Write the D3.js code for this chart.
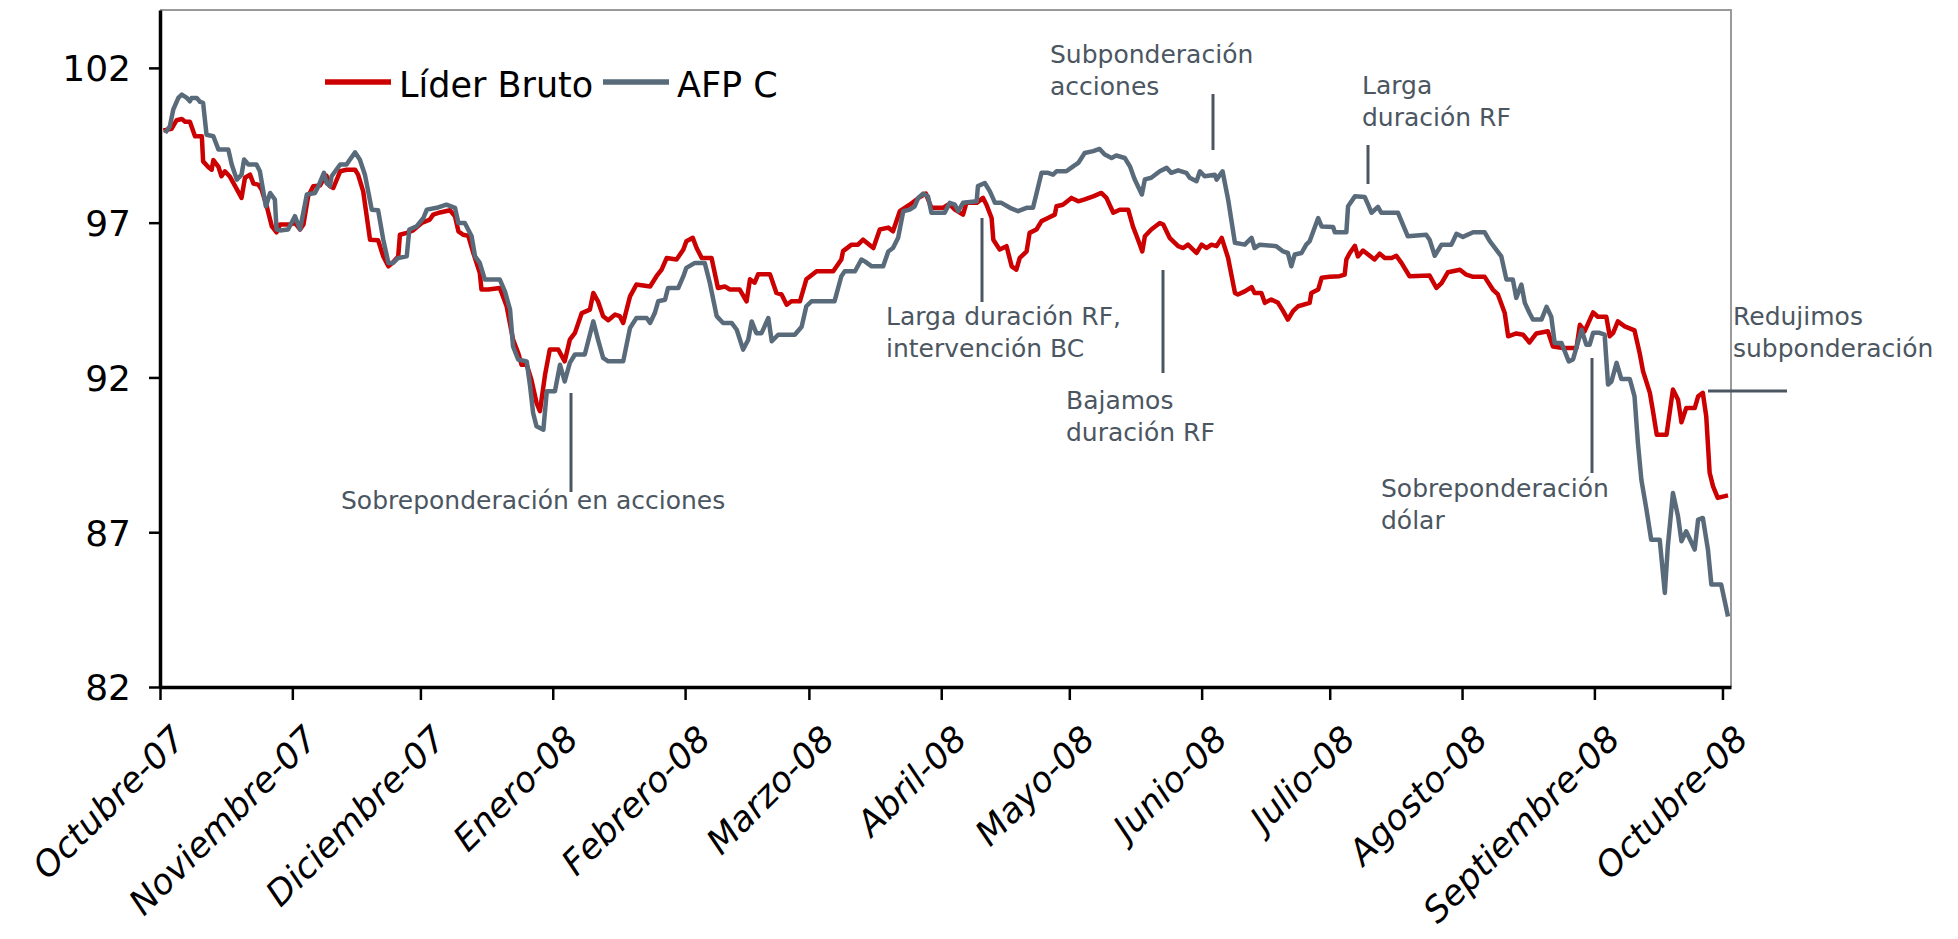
<!DOCTYPE html>
<html>
<head>
<meta charset="utf-8">
<script src="https://cdn.jsdelivr.net/npm/d3@7"></script>
<style>
  body { margin: 0; background: #fff; }
  svg { display: block; }
</style>
</head>
<body>
<div id="chart"></div>
<script>
// ---- data (days counted from 1 Oct 2007) ----
const startDate = new Date(2007, 9, 1);

const monthLabels = ["Octubre-07", "Noviembre-07", "Diciembre-07", "Enero-08", "Febrero-08",
  "Marzo-08", "Abril-08", "Mayo-08", "Junio-08", "Julio-08", "Agosto-08", "Septiembre-08", "Octubre-08"];

const yTicks = [82, 87, 92, 97, 102];

const seriesNames = ["Líder Bruto", "AFP C"];

const liderDays = [0.8,2.7,3.9,5.1,5.9,7.0,8.2,9.8,10.1,11.3,12.1,12.5,13.7,14.4,15.2,16.4,17.6,19.1,19.9,21.1,21.9,23.0,23.8,25.0,26.2,27.3,28.1,30.4,31.6,32.8,33.6,34.7,35.9,37.5,38.2,39.0,39.8,40.6,42.2,43.7,45.7,46.4,47.6,49.2,51.1,52.3,53.5,54.6,55.8,56.2,57.8,59.3,61.3,63.2,64.0,65.6,67.9,69.1,69.9,71.0,72.2,73.4,74.9,75.3,76.9,79.6,81.2,82.7,83.9,84.7,85.9,87.0,88.2,89.0,90.2,91.3,93.3,94.8,96.0,97.2,98.8,100.7,101.5,102.6,103.8,105.0,106.6,107.7,108.5,110.1,111.6,114.8,116.3,117.5,118.7,121.0,122.6,123.3,124.8,125.7,126.9,129.2,130.7,132.3,133.5,135.8,137.4,138.2,139.3,140.1,142.9,144.4,145.6,146.8,147.9,149.9,151.4,153.8,157.7,159.6,160.0,162.0,163.5,164.7,167.1,168.6,170.6,171.7,173.3,175.6,178.0,179.4,180.7,183.4,184.6,185.4,186.2,188.1,188.9,191.3,192.8,193.6,194.8,195.2,196.7,198.3,199.5,200.6,201.4,203.0,203.7,205.3,206.5,208.0,209.6,210.0,211.5,213.5,215.1,216.6,218.6,220.5,221.7,223.3,224.8,226.8,227.9,229.1,230.1,230.7,232.2,234.2,235.0,236.5,238.5,239.7,240.8,242.0,242.8,244.0,245.1,246.3,247.5,248.7,250.2,251.8,252.5,254.1,255.7,256.4,258.0,258.8,260.3,261.9,263.1,264.2,265.4,266.6,269.3,269.7,271.3,272.1,274.0,276.3,277.5,277.9,278.7,279.9,280.6,281.8,283.0,284.5,285.7,286.9,288.5,289.6,290.8,292.7,297.4,299.0,300.2,301.7,304.5,306.0,307.6,310.3,312.2,313.4,315.0,315.8,317.7,319.3,320.8,322.4,325.1,326.3,328.6,331.8,332.6,333.7,335.7,336.8,338.8,339.6,340.4,341.5,343.1,345.4,346.6,347.4,349.0,349.8,350.6,352.9,354.4,355.6,356.4,357.5,359.5,360.3,361.4,362.2,363.0,363.8,364.9,367.3];
const liderValues = [99.98,100.03,100.31,100.35,100.26,100.26,99.79,99.79,98.98,98.80,98.71,99.02,98.80,98.50,98.66,98.48,98.18,97.80,98.45,98.55,98.26,98.23,98.07,97.53,96.88,96.69,96.94,96.94,96.99,96.78,96.94,97.85,98.18,98.20,98.39,98.52,98.18,98.12,98.66,98.71,98.71,98.55,98.01,96.45,96.43,95.91,95.59,95.72,95.91,96.61,96.67,96.75,96.99,97.10,97.26,97.33,97.40,97.21,96.72,96.61,96.58,96.02,95.38,94.84,94.84,94.89,94.30,93.22,92.79,92.41,92.41,91.93,91.18,90.91,92.09,92.90,92.90,92.52,93.22,93.44,94.08,94.19,94.73,94.46,93.98,93.85,94.03,93.98,93.76,94.62,95.00,94.94,95.27,95.48,95.86,95.81,96.13,96.40,96.51,96.18,95.86,95.86,94.89,94.94,94.84,94.84,94.46,95.17,95.06,95.33,95.33,94.73,94.68,94.35,94.46,94.46,95.17,95.43,95.43,95.81,96.08,96.29,96.29,96.45,96.18,96.78,96.84,96.72,97.37,97.58,97.83,97.94,97.48,97.48,97.58,97.53,97.42,97.26,97.64,97.64,97.80,97.58,97.15,96.45,96.13,96.24,95.59,95.48,95.86,96.07,96.67,96.78,97.05,97.15,97.26,97.53,97.58,97.80,97.69,97.75,97.85,97.96,97.80,97.32,97.42,97.42,96.88,96.45,96.07,96.56,96.78,96.99,96.94,96.51,96.24,96.18,96.29,96.13,96.02,96.29,96.18,96.29,96.24,96.51,95.86,94.73,94.68,94.78,94.92,94.73,94.73,94.41,94.52,94.41,94.14,93.87,94.14,94.30,94.41,94.73,94.84,95.22,95.25,95.27,95.32,95.81,96.02,96.25,95.91,96.10,95.97,95.81,96.00,95.86,95.86,95.93,95.70,95.27,95.29,94.89,95.05,95.40,95.48,95.32,95.25,95.25,94.84,94.68,94.08,93.33,93.42,93.38,93.13,93.42,93.49,93.00,92.95,92.95,93.70,93.49,94.10,93.96,93.96,93.33,93.44,93.81,93.65,93.52,92.79,92.20,91.50,90.85,90.15,90.15,91.61,91.28,90.55,91.01,91.01,91.39,91.50,90.74,88.92,88.48,88.11,88.19];

const afpDays = [1.2,2.3,3.1,4.3,5.1,6.3,7.0,7.4,8.6,9.4,10.1,10.9,12.5,13.7,16.0,16.8,18.0,19.1,19.7,20.7,22.6,23.4,24.8,25.8,26.9,27.3,28.1,30.0,31.6,32.8,34.4,36.3,37.1,38.4,39.0,39.8,40.2,42.2,43.7,44.5,45.7,46.8,48.0,49.6,51.1,52.3,53.5,54.6,55.8,57.8,58.4,60.1,61.7,62.5,64.8,67.1,69.1,69.9,71.4,73.0,73.8,74.9,76.1,79.6,80.8,82.0,82.7,83.9,85.9,86.7,87.4,88.2,89.8,90.6,92.5,93.7,94.8,96.0,97.2,99.5,101.5,102.6,103.8,105.0,108.5,110.1,111.6,114.0,114.8,115.9,116.7,118.3,119.0,121.4,122.6,123.3,125.3,127.6,128.8,130.4,131.9,133.9,135.1,136.6,137.8,138.6,139.7,140.9,142.5,143.3,144.8,148.7,150.3,151.4,152.6,158.0,159.6,160.4,162.8,164.3,165.1,166.7,169.4,170.6,171.7,172.9,174.1,175.6,176.8,177.6,178.8,179.9,180.7,181.9,183.8,185.0,186.2,187.0,188.1,191.3,191.6,193.2,194.4,195.6,197.1,199.1,201.0,203.0,204.5,206.5,208.0,209.2,210.0,212.3,213.9,215.1,216.6,218.6,220.1,221.3,222.9,224.0,226.0,227.2,228.3,230.0,230.7,232.2,234.2,235.8,236.9,238.5,240.4,241.2,242.8,243.6,244.7,247.1,247.5,248.9,250.2,251.8,254.1,255.7,256.4,257.6,261.5,263.1,264.2,265.0,265.8,267.4,268.5,269.3,271.3,272.1,274.8,275.2,277.9,278.3,279.9,282.2,283.0,283.8,285.3,286.1,290.0,292.3,296.6,297.4,298.6,300.2,302.5,303.7,305.2,307.6,310.3,311.5,313.0,314.2,315.4,316.9,317.7,318.9,319.7,320.8,321.6,323.6,324.8,325.9,326.7,328.3,330.0,331.0,333.0,334.1,334.9,335.7,337.2,338.4,339.2,340.0,341.2,342.3,344.3,345.4,346.2,347.0,348.2,349.3,351.3,352.5,353.2,354.4,355.6,356.4,357.5,359.5,360.3,361.4,362.6,363.4,365.7,367.3];
const afpValues = [99.90,100.11,100.65,101.03,101.14,101.03,100.92,101.03,101.03,100.90,100.87,99.84,99.79,99.36,99.36,98.88,98.39,98.55,99.04,98.88,98.88,98.66,97.53,97.96,97.75,96.78,96.75,96.78,97.21,96.78,97.91,97.96,98.18,98.61,98.28,98.18,98.50,98.88,98.88,99.04,99.27,99.04,98.55,97.42,97.40,96.45,95.70,95.70,95.86,95.91,96.78,96.88,97.15,97.42,97.48,97.58,97.48,96.99,96.99,96.56,95.91,95.70,95.16,95.16,94.78,94.19,93.00,92.58,92.52,91.71,90.85,90.42,90.31,91.55,91.55,92.41,91.87,92.47,92.74,92.74,93.81,93.22,92.63,92.52,92.52,93.60,93.92,93.92,93.76,94.08,94.46,94.51,94.89,94.89,95.27,95.54,95.70,95.70,95.05,93.98,93.76,93.76,93.54,92.90,93.22,93.81,93.43,93.43,93.92,93.17,93.38,93.38,93.64,94.30,94.46,94.46,95.27,95.43,95.43,95.81,95.75,95.59,95.59,96.07,96.18,96.51,97.37,97.42,97.53,97.80,97.94,97.85,97.32,97.32,97.32,97.64,97.58,97.37,97.64,97.69,98.18,98.28,98.01,97.64,97.64,97.48,97.37,97.48,97.48,98.61,98.61,98.55,98.66,98.66,98.82,98.93,99.25,99.31,99.38,99.20,99.09,99.17,99.09,98.82,98.40,97.91,98.40,98.45,98.66,98.77,98.61,98.69,98.61,98.45,98.34,98.66,98.50,98.55,98.39,98.66,97.75,96.35,96.29,96.51,96.18,96.29,96.24,96.07,96.02,95.59,95.97,96.02,96.29,96.40,97.15,96.88,96.86,96.69,96.69,97.53,97.85,97.83,97.58,97.32,97.51,97.32,97.32,96.56,96.61,96.45,95.93,96.29,96.29,96.64,96.54,96.69,96.69,96.40,96.13,95.91,95.16,95.16,94.57,95.00,94.41,94.08,93.87,93.87,94.28,93.96,93.11,93.11,92.52,92.58,93.54,93.06,93.06,93.44,93.44,93.38,91.77,91.87,92.47,91.95,91.95,91.39,89.88,88.70,87.73,86.76,86.76,85.04,86.54,88.27,87.51,86.71,87.03,86.44,87.41,87.46,86.44,85.31,85.31,84.28];

// annotation texts (one entry per note, lines split)
const noteTexts = [
  ["Subponderación", "acciones"],
  ["Larga duración RF,", "intervención BC"],
  ["Bajamos", "duración RF"],
  ["Larga", "duración RF"],
  ["Redujimos", "subponderación"],
  ["Sobreponderación", "dólar"],
  ["Sobreponderación en acciones"]
];

// ---- layout ----
const width = 1958, height = 939;
const plot = {left: 160, right: 1731, top: 10, bottom: 687};
const redColor = "#cc0000";
const grayColor = "#596b7a";
const noteColor = "#4b5661";
const font = "'DejaVu Sans', Verdana, sans-serif";

// where each note sits: text origin and its leader line
const noteLayout = [
  {x: 1050, y: 63,  leader: [1213, 94, 1213, 150]},
  {x: 886,  y: 325, leader: [982, 218, 982, 302]},
  {x: 1066, y: 409, leader: [1163, 270, 1163, 373]},
  {x: 1362, y: 94,  leader: [1368, 145, 1368, 184]},
  {x: 1733, y: 325, leader: [1708, 391, 1787, 391]},
  {x: 1381, y: 497, leader: [1592, 358, 1592, 473]},
  {x: 341,  y: 509, leader: [571, 393, 571, 492]}
];

const toDate = d => new Date(startDate.getTime() + d * 864e5);

const lider = liderDays.map((d, i) => ({date: toDate(d), value: liderValues[i]}));
const afp = afpDays.map((d, i) => ({date: toDate(d), value: afpValues[i]}));

const svg = d3.select("#chart")
    .append("svg")
    .attr("width", width)
    .attr("height", height);

svg.append("rect").attr("width", width).attr("height", height).attr("fill", "#fff");

const x = d3.scaleTime()
    .domain([startDate, d3.timeDay.offset(startDate, 368)])
    .range([plot.left, plot.right]);

const y = d3.scaleLinear()
    .domain([82, 103.87])
    .range([plot.bottom, plot.top]);

// frame (top and right edges)
svg.append("path")
    .attr("d", `M${plot.left},${plot.top}H${plot.right}V${plot.bottom}`)
    .attr("fill", "none")
    .attr("stroke", "#9a9a9a")
    .attr("stroke-width", 2);

// x axis
const monthDates = monthLabels.map((m, i) => d3.timeMonth.offset(startDate, i));
const xAxis = svg.append("g")
    .attr("transform", `translate(0,${plot.bottom})`)
    .call(d3.axisBottom(x)
        .tickValues(monthDates)
        .tickSize(13)
        .tickSizeOuter(0)
        .tickFormat((d, i) => monthLabels[i]));

xAxis.select(".domain").attr("stroke", "#000").attr("stroke-width", 3.5);
xAxis.selectAll(".tick line").attr("stroke", "#000").attr("stroke-width", 2.5);
xAxis.selectAll(".tick text")
    .attr("x", 0).attr("y", 0).attr("dy", 0)
    .attr("transform", "translate(27,54) rotate(-45)")
    .style("text-anchor", "end")
    .style("font-family", font)
    .style("font-style", "italic")
    .style("font-size", "35px")
    .attr("fill", "#000");

// y axis
const yAxis = svg.append("g")
    .attr("transform", `translate(${plot.left},0)`)
    .call(d3.axisLeft(y)
        .tickValues(yTicks)
        .tickSize(11)
        .tickSizeOuter(0)
        .tickPadding(18));

yAxis.select(".domain").attr("stroke", "#000").attr("stroke-width", 3.5);
yAxis.selectAll(".tick line").attr("stroke", "#000").attr("stroke-width", 2.5);
yAxis.selectAll(".tick text")
    .attr("dy", "0.36em")
    .style("font-family", font)
    .style("font-size", "36px")
    .attr("fill", "#000");

// series lines
const line = d3.line()
    .x(d => x(d.date))
    .y(d => y(d.value));

svg.append("path")
    .datum(lider)
    .attr("d", line)
    .attr("fill", "none")
    .attr("stroke", redColor)
    .attr("stroke-width", 4.5)
    .attr("stroke-linejoin", "round");

svg.append("path")
    .datum(afp)
    .attr("d", line)
    .attr("fill", "none")
    .attr("stroke", grayColor)
    .attr("stroke-width", 4.5)
    .attr("stroke-linejoin", "round");

// legend
const legend = svg.append("g").style("font-family", font).style("font-size", "35px");
const legendItems = [
  {name: seriesNames[0], color: redColor, x: 325},
  {name: seriesNames[1], color: grayColor, x: 603}
];
legendItems.forEach(item => {
  legend.append("line")
      .attr("x1", item.x).attr("x2", item.x + 66)
      .attr("y1", 82).attr("y2", 82)
      .attr("stroke", item.color)
      .attr("stroke-width", 5.5);
  legend.append("text")
      .attr("x", item.x + 74)
      .attr("y", 97)
      .attr("fill", "#000")
      .text(item.name);
});

// annotations
const notes = svg.append("g");
noteTexts.forEach((lines, i) => {
  const pos = noteLayout[i];
  const l = pos.leader;
  notes.append("line")
      .attr("x1", l[0]).attr("y1", l[1])
      .attr("x2", l[2]).attr("y2", l[3])
      .attr("stroke", noteColor)
      .attr("stroke-width", 3);
  const t = notes.append("text")
      .attr("x", pos.x)
      .attr("y", pos.y)
      .attr("fill", noteColor)
      .style("font-family", font)
      .style("font-size", "25px");
  lines.forEach((s, j) => {
    t.append("tspan")
        .attr("x", pos.x)
        .attr("dy", j === 0 ? 0 : 31.5)
        .text(s);
  });
});
</script>
</body>
</html>
